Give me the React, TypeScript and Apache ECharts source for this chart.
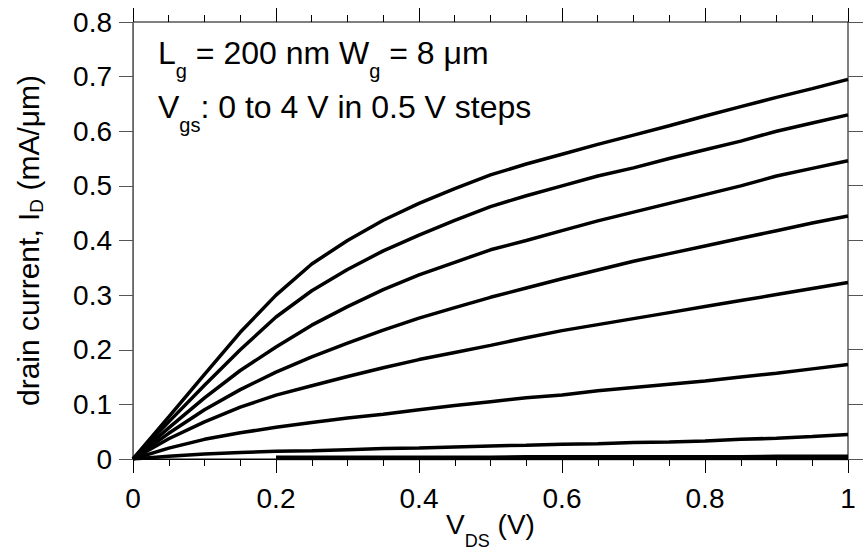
import React, { useEffect, useRef } from "react";
import * as echarts from "echarts";

const FONT = "'Liberation Sans', Arial, Helvetica, sans-serif";

// Drain voltage V_DS (V)
const vds = [0, 0.05, 0.1, 0.15, 0.2, 0.25, 0.3, 0.35, 0.4, 0.45, 0.5, 0.55, 0.6, 0.65, 0.7, 0.75, 0.8, 0.85, 0.9, 0.95, 1.0];

// Drain current I_D (mA/um) for each gate voltage (null = not drawn)
const idVgs40 = [0, 0.077, 0.155, 0.232, 0.3, 0.357, 0.4, 0.437, 0.468, 0.495, 0.52, 0.54, 0.558, 0.576, 0.593, 0.61, 0.628, 0.645, 0.662, 0.678, 0.695];
const idVgs35 = [0, 0.068, 0.135, 0.2, 0.26, 0.308, 0.347, 0.381, 0.41, 0.437, 0.462, 0.482, 0.5, 0.518, 0.533, 0.55, 0.566, 0.582, 0.6, 0.615, 0.63];
const idVgs30 = [0, 0.057, 0.112, 0.162, 0.205, 0.245, 0.279, 0.31, 0.337, 0.36, 0.383, 0.4, 0.418, 0.436, 0.452, 0.468, 0.484, 0.5, 0.518, 0.532, 0.546];
const idVgs25 = [0, 0.047, 0.09, 0.127, 0.159, 0.187, 0.212, 0.236, 0.258, 0.277, 0.296, 0.313, 0.33, 0.346, 0.362, 0.376, 0.39, 0.404, 0.418, 0.432, 0.445];
const idVgs20 = [0, 0.037, 0.068, 0.095, 0.117, 0.134, 0.151, 0.167, 0.182, 0.195, 0.208, 0.222, 0.235, 0.246, 0.257, 0.268, 0.279, 0.29, 0.301, 0.312, 0.323];
const idVgs15 = [0, 0.02, 0.036, 0.048, 0.058, 0.067, 0.075, 0.082, 0.09, 0.098, 0.105, 0.112, 0.117, 0.125, 0.131, 0.137, 0.143, 0.15, 0.157, 0.165, 0.173];
const idVgs10 = [0, 0.005, 0.009, 0.012, 0.014, 0.015, 0.017, 0.019, 0.02, 0.022, 0.024, 0.025, 0.027, 0.028, 0.03, 0.031, 0.033, 0.036, 0.038, 0.041, 0.045];
const idVgs05 = [null, null, null, null, 0.003, 0.003, 0.003, 0.003, 0.003, 0.003, 0.003, 0.004, 0.004, 0.004, 0.004, 0.004, 0.004, 0.004, 0.005, 0.005, 0.005];
const idVgs00 = [null, null, null, null, 0.001, 0.001, 0.001, 0.001, 0.001, 0.001, 0.001, 0.001, 0.001, 0.001, 0.001, 0.001, 0.001, 0.001, 0.001, 0.001, 0.001];

const curves = [
  { name: "Vgs=4.0", values: idVgs40 },
  { name: "Vgs=3.5", values: idVgs35 },
  { name: "Vgs=3.0", values: idVgs30 },
  { name: "Vgs=2.5", values: idVgs25 },
  { name: "Vgs=2.0", values: idVgs20 },
  { name: "Vgs=1.5", values: idVgs15 },
  { name: "Vgs=1.0", values: idVgs10 },
  { name: "Vgs=0.5", values: idVgs05 },
  { name: "Vgs=0.0", values: idVgs00 },
];

// Axis ranges and tick values (top and right mirror ticks)
const X_MIN = 0;
const X_MAX = 1;
const Y_MIN = 0;
const Y_MAX = 0.8;
const xMajorTicks = [0, 0.2, 0.4, 0.6, 0.8, 1];
const xMinorTicks = [0.05, 0.1, 0.15, 0.25, 0.3, 0.35, 0.45, 0.5, 0.55, 0.65, 0.7, 0.75, 0.85, 0.9, 0.95];
const yMajorTicks = [0, 0.1, 0.2, 0.3, 0.4, 0.5, 0.6, 0.7, 0.8];

const topTickSeries = (ticks: number[], len: number) => ({
  type: "custom",
  coordinateSystem: "cartesian2d",
  clip: false,
  silent: true,
  z: 100,
  data: ticks.map((v) => [v, Y_MAX]),
  renderItem: (_p: any, api: any) => {
    const t = api.coord([api.value(0), Y_MAX]);
    const x = Math.floor(t[0]) + 0.5;
    return {
      type: "line",
      shape: { x1: x, y1: t[1], x2: x, y2: t[1] - len },
      style: { stroke: "#000", lineWidth: 1 },
    };
  },
});

const rightTickSeries = (ticks: number[], len: number) => ({
  type: "custom",
  coordinateSystem: "cartesian2d",
  clip: false,
  silent: true,
  z: 100,
  data: ticks.map((v) => [X_MAX, v]),
  renderItem: (_p: any, api: any) => {
    const r = api.coord([X_MAX, api.value(1)]);
    const y = Math.floor(r[1]) + 0.5;
    return {
      type: "line",
      shape: { x1: r[0], y1: y, x2: r[0] + len, y2: y },
      style: { stroke: "#555", lineWidth: 1 },
    };
  },
});

export default function App() {
  const ref = useRef<HTMLDivElement>(null);

  useEffect(() => {
    if (!ref.current) return;
    const chart = echarts.init(ref.current, undefined, { renderer: "svg" });

    const annStyle = {
      fontSize: 32,
      fontFamily: FONT,
      fontWeight: "normal",
      color: "#000",
      lineHeight: 57,
      rich: {
        s: { fontSize: 20, fontFamily: FONT, fontWeight: "normal", color: "#000", lineHeight: 57, padding: [37, 0, 0, 0] },
      },
    };

    chart.setOption({
      animation: false,
      backgroundColor: "#fff",
      title: [
        { left: 158, top: 24, padding: 0, text: "L{s|g} = 200 nm W{s|g} = 8 μm", textStyle: annStyle },
        { left: 158, top: 78, padding: 0, text: "V{s|gs}: 0 to 4 V in 0.5 V steps", textStyle: annStyle },
      ],
      grid: {
        left: 133,
        right: 17,
        top: 22,
        bottom: 94,
        show: true,
        borderColor: "#000",
        borderWidth: 1,
        backgroundColor: "transparent",
      },
      xAxis: {
        type: "value",
        position: "bottom",
        min: X_MIN,
        max: X_MAX,
        interval: 0.2,
        name: "V{s|DS} (V)",
        nameLocation: "middle",
        nameGap: 40,
        nameMoveOverlap: false,
        nameTextStyle: {
          fontSize: 28,
          fontFamily: FONT,
          color: "#000",
          lineHeight: 51,
          rich: { s: { fontSize: 18, fontFamily: FONT, color: "#000", lineHeight: 51, padding: [33, 0, 0, 0] } },
        },
        axisLine: { show: true, onZero: false, lineStyle: { color: "#000", width: 1 } },
        axisTick: { show: true, length: 14, lineStyle: { color: "#000", width: 1 } },
        minorTick: { show: true, splitNumber: 4, length: 7, lineStyle: { color: "#000", width: 1 } },
        axisLabel: { show: true, margin: 25, fontSize: 28, color: "#000", fontFamily: FONT },
        splitLine: { show: false },
        minorSplitLine: { show: false },
      },
      yAxis: {
        type: "value",
        position: "left",
        min: Y_MIN,
        max: Y_MAX,
        interval: 0.1,
        name: "drain current, I{s|D} (mA/μm)",
        nameLocation: "middle",
        nameRotate: 90,
        nameGap: 87,
        nameMoveOverlap: false,
        nameTextStyle: {
          fontSize: 30,
          fontFamily: FONT,
          color: "#000",
          lineHeight: 35,
          rich: { s: { fontSize: 19, fontFamily: FONT, color: "#000", lineHeight: 35, padding: [16, 0, 0, 0] } },
        },
        axisLine: { show: true, onZero: false, lineStyle: { color: "#666", width: 1 } },
        axisTick: { show: true, length: 14, lineStyle: { color: "#555", width: 1 } },
        axisLabel: { show: true, margin: 21, fontSize: 28, color: "#000", fontFamily: FONT },
        splitLine: { show: false },
      },
      series: [
        ...curves.map((c) => ({
          name: c.name,
          type: "line",
          showSymbol: false,
          symbol: "none",
          smooth: false,
          lineStyle: { color: "#000", width: 3.5 },
          data: vds
            .map((x, i) => [x, c.values[i]])
            .filter((p) => p[1] !== null),
        })),
        topTickSeries(xMajorTicks, 14),
        topTickSeries(xMinorTicks, 7),
        rightTickSeries(yMajorTicks, 15),
      ],
    });

    return () => chart.dispose();
  }, []);

  return (
    <div
      ref={ref}
      style={{ position: "fixed", left: 0, top: 0, width: 865, height: 555, background: "#fff" }}
    />
  );
}
